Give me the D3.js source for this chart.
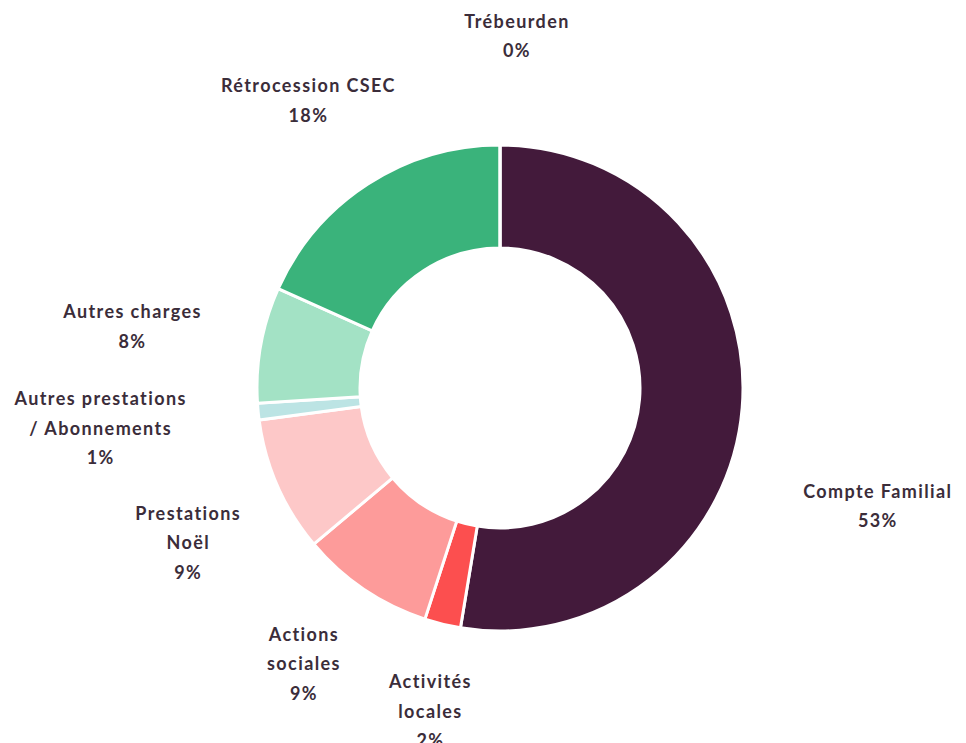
<!DOCTYPE html>
<html>
<head>
<meta charset="utf-8">
<script src="https://cdn.jsdelivr.net/npm/d3@7"></script>
<style>
  body { margin: 0; background: #fff; }
</style>
</head>
<body>
<div id="chart"></div>
<script>
// data
const categories = [`Compte Familial`, `Activités locales`, `Actions sociales`, `Prestations Noël`,
                    `Autres prestations / Abonnements`, `Autres charges`, `Rétrocession CSEC`, `Trébeurden`];
const shares = [52.6, 2.4, 8.9, 9.0, 1.1, 7.7, 18.3, 0];
const shareLabels = [`53%`, `2%`, `9%`, `9%`, `1%`, `8%`, `18%`, `0%`];
// label text split into lines
const labelLines = [
    [`Compte Familial`],
    [`Activités`, `locales`],
    [`Actions`, `sociales`],
    [`Prestations`, `Noël`],
    [`Autres prestations`, `/ Abonnements`],
    [`Autres charges`],
    [`Rétrocession CSEC`],
    [`Trébeurden`]
];

// layout
const width = 966;
const height = 743;
const cx = 500;
const cy = 388;
const outerR = 243;
const innerR = 140;
const labelR = 345;
const lineH = 29.5;
const colors = ['#431a3b', '#fc4f4f', '#fd9b9a', '#fdc8c8', '#bce4e4', '#a3e2c5', '#3ab37b', '#2f7d5b'];
// nudges for the label blocks (from the radial spot)
const labelNudge = [[34, 90], [12, -12], [-3, -10], [4, 16], [-56, 7], [-28, 0], [-4, 2], [17, -7]];
const fontFamily = `Lato, 'Open Sans', sans-serif`;
const fontColor = `#3b2d3a`;

const svg = d3.select(`#chart`)
    .append(`svg`)
        .attr(`width`, width)
        .attr(`height`, height);

const g = svg.append(`g`)
    .attr(`transform`, `translate(${cx},${cy})`);

const pie = d3.pie()
    .sort(null)
    .value(d => d);

const arc = d3.arc()
    .innerRadius(innerR)
    .outerRadius(outerR);

const arcs = pie(shares);

g.selectAll(`path`)
    .data(arcs)
    .join(`path`)
        .attr(`d`, arc)
        .attr(`fill`, (d, i) => colors[i])
        .attr(`stroke`, `#fff`)
        .attr(`stroke-width`, 3);

const labels = g.selectAll(`g.label`)
    .data(arcs)
    .join(`g`)
        .attr(`class`, `label`)
        .attr(`transform`, (d, i) => {
            const a = (d.startAngle + d.endAngle) / 2;
            const x = Math.sin(a) * labelR + labelNudge[i][0];
            const y = -Math.cos(a) * labelR + labelNudge[i][1];
            return `translate(${x},${y})`;
        });

labels.each(function (d, i) {
    const lines = labelLines[i].concat([shareLabels[i]]);
    const top = -(lines.length - 1) * lineH / 2;
    d3.select(this).selectAll(`text`)
        .data(lines)
        .join(`text`)
            .attr(`x`, 0)
            .attr(`y`, (t, j) => top + j * lineH)
            .attr(`dy`, `0.35em`)
            .attr(`text-anchor`, `middle`)
            .style(`font-family`, fontFamily)
            .style(`font-weight`, 700)
            .style(`font-size`, `18px`)
            .style(`letter-spacing`, `1.4px`)
            .attr(`fill`, fontColor)
            .text(t => t);
});
</script>
</body>
</html>
